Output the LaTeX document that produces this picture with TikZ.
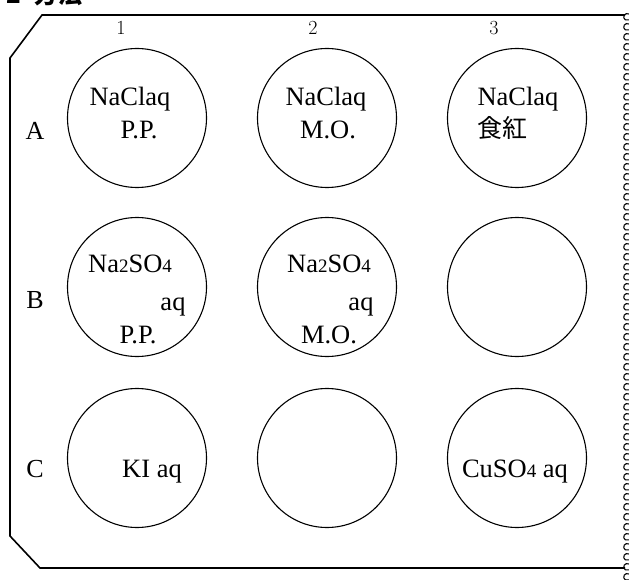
\documentclass[tikz,border=0pt]{standalone}
\usepackage{fontspec}
\setmainfont{Liberation Serif}
\newfontfamily\cjk{Noto Sans CJK JP}
\newfontfamily\lmr{Latin Modern Roman}
\begin{document}
\begin{tikzpicture}[x=1pt,y=-1pt,
  well/.style={draw,circle,minimum size=139pt,inner sep=0pt,line width=1.1pt},
  txt/.style={anchor=base,inner sep=0pt,font=\fontsize{26.5}{28}\selectfont},
  txtl/.style={anchor=base west,inner sep=0pt,font=\fontsize{26.5}{28}\selectfont},
  lab/.style={anchor=base,inner sep=0pt,font=\fontsize{26}{28}\selectfont},
  num/.style={anchor=center,inner sep=0pt,font=\lmr\fontsize{20}{22}\selectfont},
  frame/.style={line width=1.6pt,line join=miter},
  perf/.style={line width=1.1pt}]
\useasboundingbox (0,0) rectangle (629,580);
% partly cut heading
\node[anchor=base west,inner sep=0pt,font=\cjk\bfseries\fontsize{24}{26}\selectfont] (head) at (6,4) {2\hspace{14pt}方法};
% plate frame
\draw[frame] (625,15) -- (42,15) -- (10,58) -- (10,536) -- (40,568) -- (625,568);
% perforated edge
\foreach \y in {17,27,...,577}
  \draw[perf] ([shift={(1.8pt,3pt)}]627,\y) arc[start angle=60,end angle=300,radius=3.4pt];
% column numbers
\node[num] (c1) at (121,28) {1};
\node[num] (c2) at (313,28) {2};
\node[num] (c3) at (494,28) {3};
% row letters
\node[lab] (rA) at (35,140) {A};
\node[lab] (rB) at (35,308) {B};
\node[lab] (rC) at (35,477) {C};
% wells
\node[well] (A1) at (137,118) {};
\node[well] (A2) at (327,118) {};
\node[well] (A3) at (517,118) {};
\node[well] (B1) at (137,287) {};
\node[well] (B2) at (327,287) {};
\node[well] (B3) at (517,287) {};
\node[well] (C1) at (137,458) {};
\node[well] (C2) at (327,458) {};
\node[well] (C3) at (517,458) {};
% contents
\node[txt] (A1a) at (130,106) {NaClaq};
\node[txt] (A1b) at (139,139) {P.P.};
\node[txt] (A2a) at (326,106) {NaClaq};
\node[txt] (A2b) at (328,139) {M.O.};
\node[txt] (A3a) at (518,106) {NaClaq};
\node[txtl,font=\cjk\fontsize{25}{27}\selectfont] (A3b) at (477,138) {食紅};
\node[txtl] (B1a) at (88,272) {Na{\fontsize{19}{20}\selectfont 2}SO{\fontsize{19}{20}\selectfont 4}};
\node[txt] (B1b) at (173,310) {aq};
\node[txt] (B1c) at (138,343) {P.P.};
\node[txtl] (B2a) at (287,272) {Na{\fontsize{19}{20}\selectfont 2}SO{\fontsize{19}{20}\selectfont 4}};
\node[txt] (B2b) at (361,310) {aq};
\node[txt] (B2c) at (329,343) {M.O.};
\node[txt] (C1a) at (152,477) {KI aq};
\node[txt] (C3a) at (515,477) {CuSO{\fontsize{19}{20}\selectfont 4} aq};
\end{tikzpicture}
\end{document}
